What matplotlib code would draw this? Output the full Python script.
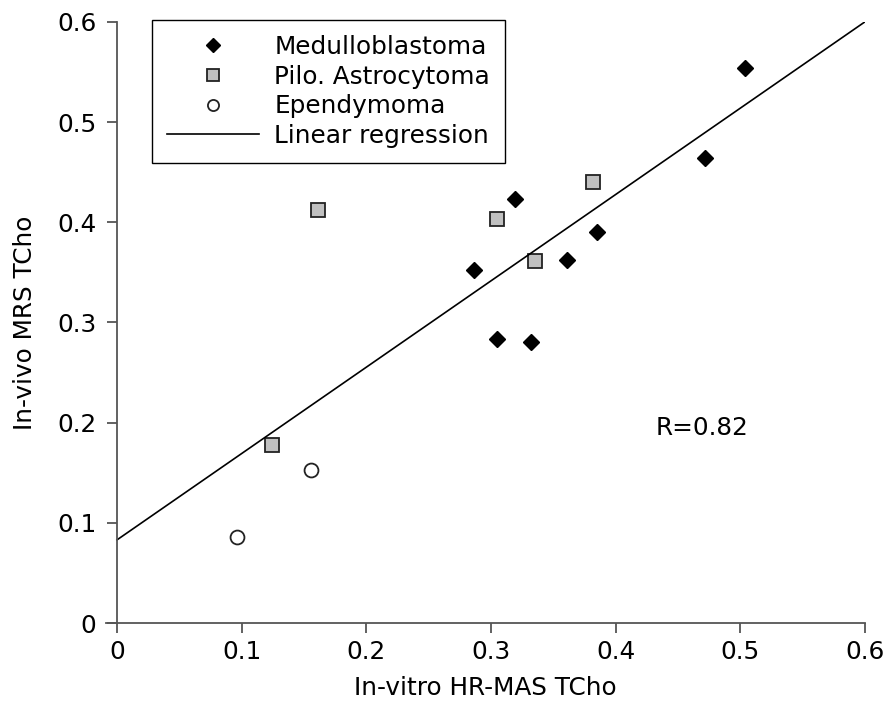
import numpy as np
import matplotlib
matplotlib.use('Agg')
import matplotlib.pyplot as plt

plt.rcParams['font.family'] = ['DejaVu Sans']

# 数据
medullo_x = [0.504, 0.472, 0.319, 0.286, 0.385, 0.361, 0.305, 0.332]
medullo_y = [0.554, 0.464, 0.423, 0.352, 0.390, 0.362, 0.284, 0.281]

pilo_x = [0.161, 0.305, 0.335, 0.382, 0.124]
pilo_y = [0.412, 0.403, 0.361, 0.440, 0.178]

epend_x = [0.096, 0.156]
epend_y = [0.086, 0.153]

reg_intercept = 0.083
reg_slope = 0.862
r_value = 0.82

fs = 17.8
spine_col = '#555555'

fig = plt.figure(figsize=(8.89, 7.07), dpi=100)
ax = fig.add_axes([0.119, 0.1188, 0.854, 0.8501])

ax.plot(medullo_x, medullo_y, 'D', color='black', markersize=8.5,
        linestyle='none', label='Medulloblastoma')
ax.plot(pilo_x, pilo_y, 's', markerfacecolor='#c0c0c0', markeredgecolor='#222222',
        markeredgewidth=1.3, markersize=10, linestyle='none', label='Pilo. Astrocytoma')
ax.plot(epend_x, epend_y, 'o', markerfacecolor='white', markeredgecolor='#222222',
        markeredgewidth=1.3, markersize=10, linestyle='none', label='Ependymoma')

xx = np.array([0.0, 0.6])
ax.plot(xx, reg_intercept + reg_slope * xx, color='black', linewidth=1.2,
        label='Linear regression')

ax.text(0.432, 0.195, f'R={r_value}', fontsize=fs, ha='left', va='center')

ax.set_xlim(-0.009, 0.6)
ax.set_ylim(0, 0.6)
ax.set_xticks([0, 0.1, 0.2, 0.3, 0.4, 0.5, 0.6])
ax.set_xticklabels(['0', '0.1', '0.2', '0.3', '0.4', '0.5', '0.6'])
ax.set_yticks([0, 0.1, 0.2, 0.3, 0.4, 0.5, 0.6])
ax.set_yticklabels(['0', '0.1', '0.2', '0.3', '0.4', '0.5', '0.6'])

ax.spines['top'].set_visible(False)
ax.spines['right'].set_visible(False)
ax.spines['left'].set_position(('data', 0))
for s in ['left', 'bottom']:
    ax.spines[s].set_color(spine_col)
    ax.spines[s].set_linewidth(1.3)
ax.tick_params(direction='out', length=7, width=1.3, color=spine_col,
               labelsize=fs)
ax.tick_params(axis='y', pad=8)
ax.tick_params(axis='x', pad=5)

ax.set_xlabel('In-vitro HR-MAS TCho', fontsize=fs, labelpad=9)
ax.set_ylabel('In-vivo MRS TCho', fontsize=fs, labelpad=14)

leg = ax.legend(loc='upper left', bbox_to_anchor=(0.0606, 1.003), borderaxespad=0,
                fontsize=fs, frameon=True, fancybox=False, handlelength=3.75,
                handletextpad=0.6, labelspacing=0.23, borderpad=0.6, markerscale=0.8)
leg.get_frame().set_edgecolor('black')
leg.get_frame().set_linewidth(1.0)
leg.get_frame().set_alpha(1)

fig.savefig('out.png', dpi=100)
